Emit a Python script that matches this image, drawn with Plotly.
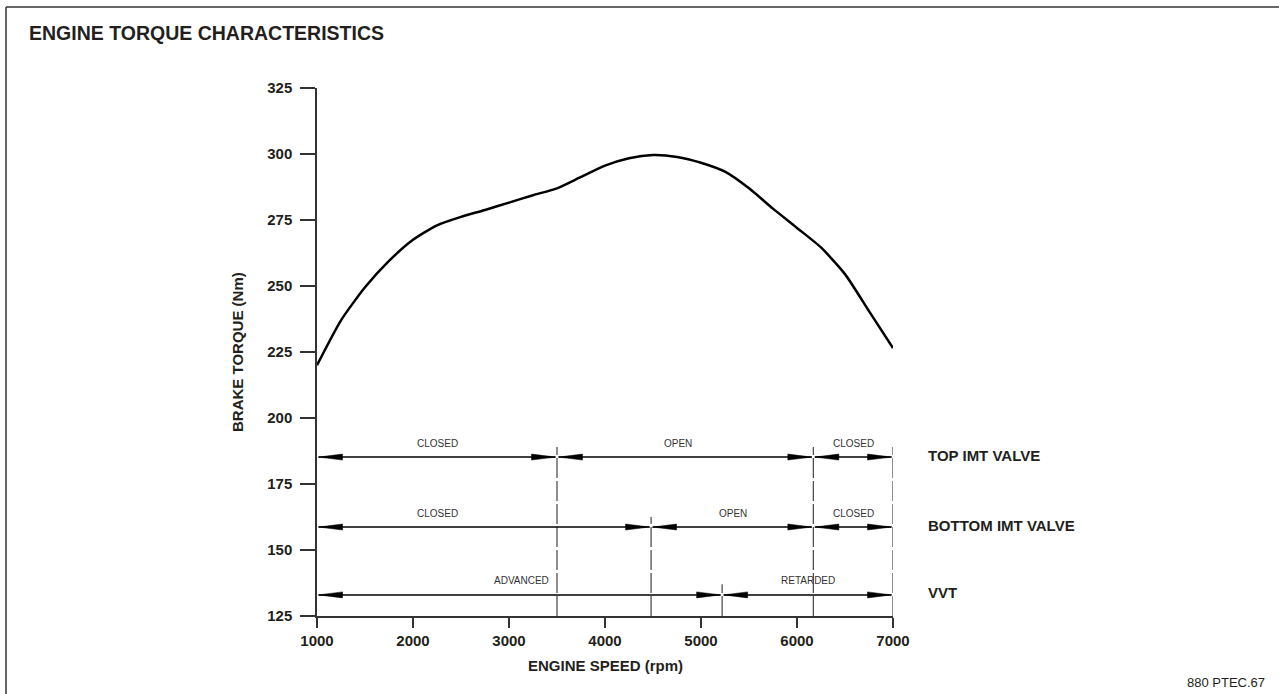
import plotly.graph_objects as go

# エンジン回転数とトルク
rpm = [1000, 1250, 1500, 1750, 2000, 2250, 2500, 2750, 3000, 3250, 3500, 3750, 4000,
       4250, 4500, 4750, 5000, 5250, 5500, 5750, 6000, 6250, 6500, 6750, 7000]
torque = [220, 237, 249.5, 259.5, 267.5, 273, 276.2, 278.8, 281.6, 284.4, 287, 291.3, 295.6,
          298.4, 299.6, 298.9, 296.7, 293.3, 287, 279.3, 272, 264.6, 254.5, 240.5, 226.5]

# バルブ / VVT の区間
row_names = ["TOP IMT VALVE", "BOTTOM IMT VALVE", "VVT"]
row_y = [185.2, 158.7, 133]
row_bounds = [[1000, 3500, 6170, 7000],
              [1000, 4480, 6170, 7000],
              [1000, 5220, 7000]]
row_labels = [["CLOSED", "OPEN", "CLOSED"],
              ["CLOSED", "OPEN", "CLOSED"],
              ["ADVANCED", "RETARDED"]]
row_label_x = [[2250, 4760, 6585],
               [2250, 5330, 6585],
               [3130, 6110]]

# 破線の境界線 (x, 上端)
div_x = [3500, 4480, 5220, 6170, 7000]
div_top = [189, 162.5, 137, 189, 189]

x_ticks = [1000, 2000, 3000, 4000, 5000, 6000, 7000]
y_ticks = [125, 150, 175, 200, 225, 250, 275, 300, 325]

# レイアウト
W, H = 1279, 694
L, R, T, B = 317, 386, 88, 78
pw, ph = W - L - R, H - T - B
x_per_px = 6000 / pw
y_per_px = 200 / ph

head_len = 24 * x_per_px
head_half = 3 * y_per_px
gap = 1.5 * x_per_px

INK = "#231f20"
FONT = "Arial, Liberation Sans, sans-serif"

fig = go.Figure()

# 破線
dx, dy = [], []
for x, top in zip(div_x, div_top):
    dx += [x, x, None]
    dy += [125, top, None]
fig.add_trace(go.Scatter(x=dx, y=dy, mode="lines", hoverinfo="skip",
                         line=dict(color="#444", width=1.2, dash="20px,3px")))

# 矢印
sx, sy, tx, ty = [], [], [], []
for y, bounds in zip(row_y, row_bounds):
    for a, b in zip(bounds[:-1], bounds[1:]):
        a0, b0 = a + gap, b - gap
        sx += [a0, b0, None]
        sy += [y, y, None]
        tx += [a0, a0 + head_len, a0 + head_len, a0, None]
        ty += [y, y + head_half, y - head_half, y, None]
        tx += [b0, b0 - head_len, b0 - head_len, b0, None]
        ty += [y, y + head_half, y - head_half, y, None]
fig.add_trace(go.Scatter(x=sx, y=sy, mode="lines", hoverinfo="skip",
                         line=dict(color="black", width=1.5)))
fig.add_trace(go.Scatter(x=tx, y=ty, mode="lines", fill="toself", fillcolor="black",
                         hoverinfo="skip", line=dict(color="black", width=0.5)))

# トルク曲線
fig.add_trace(go.Scatter(x=rpm, y=torque, mode="lines", name="torque",
                         line=dict(color="black", width=2.5, shape="spline", smoothing=0.6)))

ann = []
for y, labels, lx in zip(row_y, row_labels, row_label_x):
    for t, x in zip(labels, lx):
        ann.append(dict(x=x, y=y, xref="x", yref="y", text=t, showarrow=False,
                        yshift=14, font=dict(family=FONT, size=10, color="#333")))
for name, y in zip(row_names, row_y):
    ann.append(dict(x=7000, y=y, xref="x", yref="y", text="<b>" + name + "</b>",
                    showarrow=False, xanchor="left", yanchor="middle", xshift=33, yshift=2,
                    font=dict(family=FONT, size=15, color=INK)))

ann += [
    dict(x=(27 - L) / pw, y=(H - B - 33) / ph, xref="paper", yref="paper",
         text="<b>ENGINE TORQUE CHARACTERISTICS</b>", showarrow=False,
         xanchor="left", yanchor="middle",
         font=dict(family=FONT, size=19.5, color=INK)),
    dict(x=0.5, y=(H - B - 665) / ph, xref="paper", yref="paper",
         text="<b>ENGINE SPEED (rpm)</b>", showarrow=False,
         xanchor="center", yanchor="middle",
         font=dict(family=FONT, size=15, color=INK)),
    dict(x=(237 - L) / pw, y=0.5, xref="paper", yref="paper", textangle=-90,
         text="<b>BRAKE TORQUE (Nm)</b>", showarrow=False,
         xanchor="center", yanchor="middle",
         font=dict(family=FONT, size=15, color=INK)),
    dict(x=(1267 - L) / pw, y=(H - B - 682) / ph, xref="paper", yref="paper",
         text="880 PTEC.67", showarrow=False, xanchor="right", yanchor="middle",
         font=dict(family=FONT, size=13, color=INK)),
]

# 枠線
frame = [
    dict(type="line", xref="paper", yref="paper", x0=(6 - L) / pw, x1=(W - L) / pw,
         y0=(H - B - 7) / ph, y1=(H - B - 7) / ph, line=dict(color="#333", width=1.5)),
    dict(type="line", xref="paper", yref="paper", x0=(6 - L) / pw, x1=(6 - L) / pw,
         y0=(H - B - 7) / ph, y1=-B / ph, line=dict(color="#333", width=1.5)),
]

fig.update_layout(
    width=W, height=H,
    margin=dict(l=L, r=R, t=T, b=B),
    plot_bgcolor="white", paper_bgcolor="white",
    showlegend=False,
    annotations=ann, shapes=frame,
    xaxis=dict(range=[1000, 7000], tickvals=x_ticks, showgrid=False, zeroline=False,
               showline=True, linecolor="#333", linewidth=1.5,
               ticks="outside", ticklen=10, tickcolor="#333", tickwidth=1.5,
               tickfont=dict(family=FONT, size=15, color=INK, weight="bold")),
    yaxis=dict(range=[125, 325], tickvals=y_ticks, showgrid=False, zeroline=False,
               showline=True, linecolor="#333", linewidth=1.5,
               ticks="outside", ticklen=15, tickcolor="#333", tickwidth=1.5,
               ticklabelstandoff=5,
               tickfont=dict(family=FONT, size=15, color=INK, weight="bold")),
)

# ページ余白を消す
fig.write_html("out.html", config={"displayModeBar": False},
               post_script="document.body.style.margin='0';")
